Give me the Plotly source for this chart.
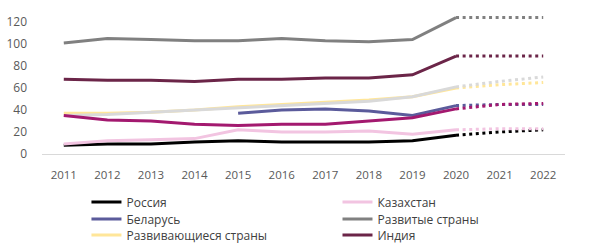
import plotly.graph_objects as go

years = ["2011", "2012", "2013", "2014", "2015", "2016", "2017", "2018", "2019", "2020", "2021", "2022"]
hist_years = years[:10]
fc_years = years[9:]

# historical values 2011-2020
russia = [8, 9, 9, 11, 12, 11, 11, 11, 12, 17]
kazakhstan = [9, 12, 13, 14, 22, 20, 20, 21, 18, 22]
belarus = [None, None, None, None, 37, 40, 41, 39, 35, 44]
developed = [101, 105, 104, 103, 103, 105, 103, 102, 104, 124]
developing = [37, 37, 38, 40, 43, 45, 47, 49, 52, 60]
india = [68, 67, 67, 66, 68, 68, 69, 69, 72, 89]
series_magenta = [35, 31, 30, 27, 26, 27, 27, 30, 33, 41]
series_lightgray = [35, 36, 38, 40, 42, 44, 46, 48, 52, 61]

# forecast values 2020-2022
russia_fc = [17, 20, 22]
kazakhstan_fc = [22, 23, 23]
belarus_fc = [44, 45, 45]
developed_fc = [124, 124, 124]
developing_fc = [60, 63, 65]
india_fc = [89, 89, 89]
magenta_fc = [41, 45, 46]
lightgray_fc = [61, 66, 70]

legend_names = ["Россия", "Казахстан", "Беларусь", "Развитые страны", "Развивающиеся страны", "Индия"]
legend_colors = ["#000000", "#F2C4E1", "#5B5B9B", "#808080", "#FFE699", "#6B2548"]

fig = go.Figure()

def add(hist, fc, color):
    fig.add_trace(go.Scatter(x=hist_years, y=hist, mode="lines",
                             line=dict(color=color, width=3), showlegend=False,
                             connectgaps=False, hoverinfo="skip"))
    fig.add_trace(go.Scatter(x=fc_years, y=fc, mode="lines",
                             line=dict(color=color, width=3, dash="3px,3.6px"),
                             showlegend=False, hoverinfo="skip"))

add(developing, developing_fc, "#FFE699")
add(series_lightgray, lightgray_fc, "#D9D9D9")
add(belarus, belarus_fc, "#5B5B9B")
add(series_magenta, magenta_fc, "#A3196F")
add(russia, russia_fc, "#000000")
add(kazakhstan, kazakhstan_fc, "#F2C4E1")
add(developed, developed_fc, "#808080")
add(india, india_fc, "#6B2548")

leg_common = dict(orientation="v", yanchor="top", xanchor="left",
                  itemwidth=30, font=dict(family="Open Sans", size=12, color="#404040"),
                  bgcolor="rgba(0,0,0,0)", borderwidth=0)

legend_layout = {}
col_x = [0.085, 0.565]
row_y = [-0.234, -0.353, -0.465]
for i, (n, c) in enumerate(zip(legend_names, legend_colors)):
    key = "legend" if i == 0 else f"legend{i + 1}"
    fig.add_trace(go.Scatter(x=[None], y=[None], mode="lines", name=n,
                             line=dict(color=c, width=3), legend=key))
    legend_layout[key] = dict(x=col_x[i % 2], y=row_y[i // 2], **leg_common)

fig.update_layout(
    width=600, height=247,
    margin=dict(l=42, r=35, t=11, b=93, autoexpand=False),
    paper_bgcolor="white", plot_bgcolor="white",
    font=dict(family="Open Sans", size=11, color="#595959"),
    xaxis=dict(type="category", categoryorder="array", categoryarray=years,
               range=[-0.5, 11.5], showgrid=False, showline=True,
               linecolor="#D9D9D9", linewidth=1, ticks="", zeroline=False,
               ticklabelstandoff=10,
               tickfont=dict(size=11.5, color="#595959")),
    yaxis=dict(range=[0, 130], tickvals=[0, 20, 40, 60, 80, 100, 120],
               showgrid=False, showline=False, zeroline=False, ticks="",
               ticklabelstandoff=14,
               tickfont=dict(size=12, color="#595959")),
    showlegend=True,
    **legend_layout,
)

fig.write_html("out.html")
